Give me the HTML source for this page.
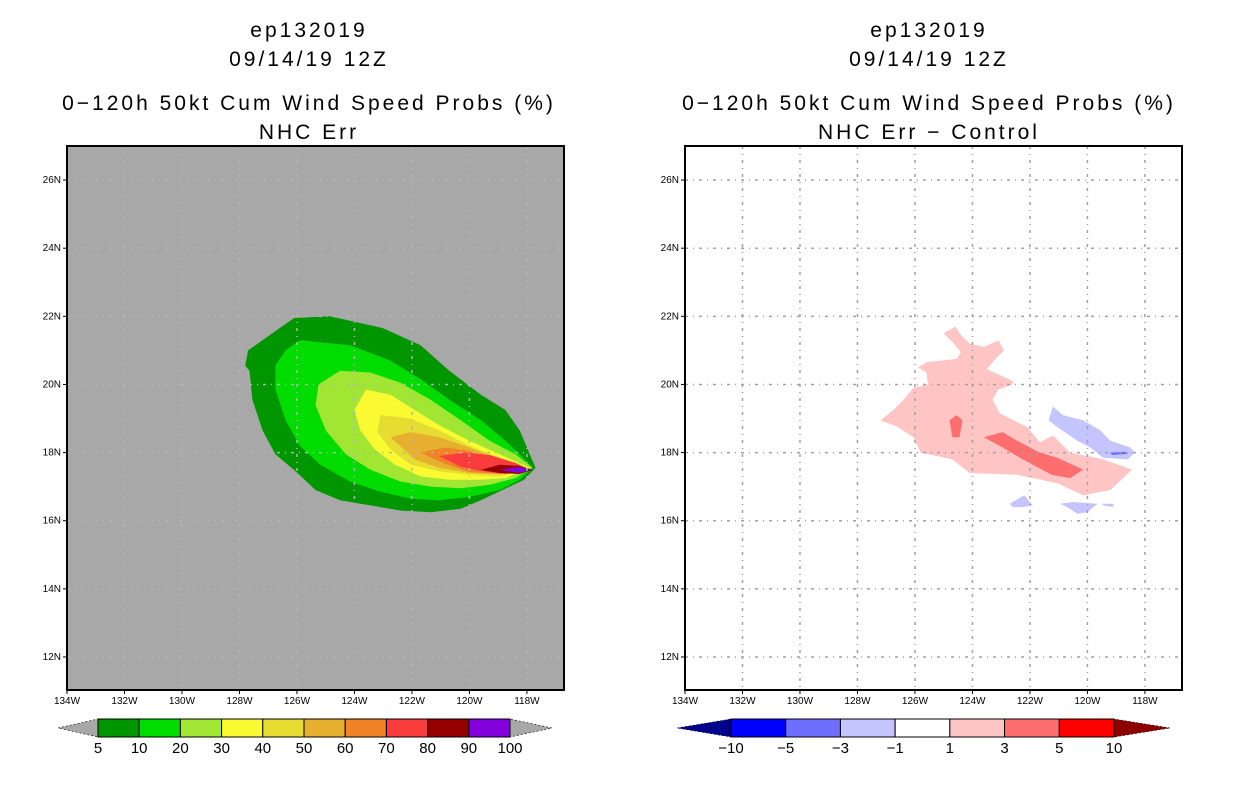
<!DOCTYPE html>
<html><head><meta charset="utf-8"><style>
body{margin:0;background:#fff;width:1236px;height:800px;overflow:hidden}
svg{display:block}
text{font-family:"Liberation Sans",sans-serif}
.t{font-size:21px;text-anchor:middle;letter-spacing:3px}
.ax{font-size:10px}
.cb{font-size:15px;text-anchor:middle}
</style></head><body>
<svg id="c" width="1236" height="800">
<g id="titles">
<text class="t" x="309" y="37">ep132019</text>
<text class="t" x="309" y="66">09/14/19 12Z</text>
<text class="t" x="309" y="110">0−120h 50kt Cum Wind Speed Probs (%)</text>
<text class="t" x="309" y="139">NHC Err</text>
<text class="t" x="929" y="37">ep132019</text>
<text class="t" x="929" y="66">09/14/19 12Z</text>
<text class="t" x="929" y="110">0−120h 50kt Cum Wind Speed Probs (%)</text>
<text class="t" x="929" y="139">NHC Err − Control</text>
</g>
</svg>
<script>
const lonTicks=[134,132,130,128,126,124,122,120,118];
const latTicks=[26,24,22,20,18,16,14,12];
const leftLevels=[5,10,20,30,40,50,60,70,80,90,100];
const leftColors=["#009600","#00dc00","#a0e632","#fafa32","#e6dc32","#e6af2d","#f08228","#fa3c3c","#960000","#8200dc"];
const rightLevels=[-10,-5,-3,-1,1,3,5,10];
const rightColors=["#00008c","#0000ff","#6e6eff","#c4c4ff","#ffffff","#ffc4c4","#ff6e6e","#ff0000","#8c0000"];
const L5=[[126.1,21.95],[124.85,22.0],[123.0,21.65],[121.7,21.15],[120.7,20.4],[119.6,19.7],[118.75,19.25],[118.25,18.65],[117.9,17.95],[117.7,17.55],[118.1,17.2],[118.6,17.0],[119.6,16.6],[120.3,16.35],[121.35,16.25],[122.4,16.3],[123.45,16.45],[124.5,16.6],[125.35,16.9],[126.05,17.45],[126.75,17.95],[127.2,18.65],[127.55,19.55],[127.65,20.4],[127.8,20.55],[127.7,21.0],[126.95,21.45]];
const L10=[[125.9,21.3],[124.15,21.15],[122.75,20.7],[121.7,20.15],[120.7,19.55],[119.6,18.95],[118.75,18.35],[118.25,17.95],[117.8,17.55],[118.25,17.2],[118.95,16.9],[120.0,16.7],[121.05,16.6],[122.05,16.65],[123.1,16.85],[124.15,17.15],[125.2,17.65],[125.9,18.2],[126.4,18.95],[126.75,19.85],[126.75,20.55],[126.4,21.0]];
const L20=[[124.5,20.4],[123.45,20.35],[122.4,20.05],[121.35,19.55],[120.3,18.95],[119.3,18.35],[118.4,17.95],[117.8,17.55],[118.4,17.25],[119.3,17.05],[120.3,16.95],[121.35,17.0],[122.4,17.15],[123.45,17.5],[124.3,17.95],[125.0,18.65],[125.35,19.4],[125.25,20.0]];
const L30=[[123.6,19.85],[122.75,19.7],[121.9,19.25],[121.05,18.8],[120.0,18.35],[118.95,17.95],[117.9,17.55],[118.75,17.25],[119.6,17.2],[120.7,17.2],[121.7,17.3],[122.6,17.65],[123.3,18.1],[123.8,18.65],[124.0,19.25]];
const L40=[[123.1,19.1],[122.05,19.0],[121.05,18.65],[120.0,18.2],[118.95,17.85],[117.9,17.5],[118.95,17.3],[120.0,17.35],[121.05,17.45],[122.05,17.65],[122.75,18.1],[123.2,18.6]];
const L50=[[122.75,18.45],[122.05,18.6],[121.05,18.45],[120.0,18.15],[118.95,17.8],[117.9,17.5],[118.95,17.37],[120.0,17.4],[121.05,17.55],[121.9,17.8]];
const L60=[[121.7,18.0],[120.85,18.15],[120.0,18.05],[118.95,17.73],[117.9,17.49],[118.95,17.37],[120.0,17.43],[120.85,17.67]];
const L70=[[121.05,17.9],[120.15,18.0],[119.3,17.93],[118.4,17.7],[117.9,17.49],[118.75,17.37],[119.6,17.46],[120.3,17.58]];
const L80=[[119.6,17.49],[118.95,17.64],[118.25,17.61],[117.8,17.49],[118.25,17.37],[118.95,17.4]];
const L90=[[118.95,17.49],[118.25,17.58],[117.85,17.49],[118.25,17.4]];
const Rpink=[[125.0,21.5],[124.6,21.7],[124.4,21.45],[124.1,21.2],[123.6,21.1],[123.1,21.3],[122.9,21.0],[123.15,20.8],[123.5,20.45],[122.6,20.1],[122.6,20.0],[123.1,19.85],[123.3,19.55],[123.05,19.15],[122.1,18.75],[121.65,18.3],[121.2,18.5],[120.6,18.0],[119.45,17.8],[118.45,17.5],[119.2,16.9],[120.15,16.75],[121.05,17.1],[122.45,17.35],[124.1,17.4],[124.7,17.8],[125.8,18.0],[126.05,18.45],[126.6,18.75],[127.2,18.95],[126.75,19.25],[126.4,19.55],[126.05,19.9],[125.55,20.0],[125.6,20.35],[125.9,20.5],[125.6,20.65],[124.55,20.75],[124.4,20.95],[124.7,21.25]];
const Rsalmon1=[[124.8,18.95],[124.55,19.1],[124.35,18.95],[124.45,18.45],[124.7,18.45]];
const Rsalmon2=[[123.6,18.45],[122.95,18.6],[122.45,18.35],[121.65,18.0],[121.05,17.85],[120.15,17.5],[120.6,17.25],[121.25,17.35],[122.25,17.8],[122.95,18.15]];
const RblueL=[[121.2,19.35],[120.85,19.1],[120.15,18.95],[119.55,18.65],[119.2,18.35],[118.5,18.15],[118.35,18.0],[118.6,17.8],[119.45,17.85],[119.9,18.15],[120.35,18.35],[121.05,18.75],[121.35,18.95]];
const RblueM=[[119.2,18.0],[118.7,18.03],[118.6,17.96],[119.15,17.93]];
const RblueA=[[122.7,16.5],[122.2,16.75],[121.9,16.45],[122.25,16.4],[122.6,16.4]];
const RblueB=[[120.95,16.5],[120.5,16.55],[119.65,16.5],[120.0,16.25],[120.35,16.2],[120.7,16.4]];
const RblueC=[[119.5,16.5],[119.1,16.5],[119.1,16.4],[119.45,16.45]];

const NS="http://www.w3.org/2000/svg";
const svg=document.getElementById('c');
function mk(t,a,p){const e=document.createElementNS(NS,t);for(const k in a)e.setAttribute(k,a[k]);(p||svg).appendChild(e);return e;}
const W=497,H=544,TOP=146,lonMax=134,lonMin=116.71,latMin=11.03,latMax=27;
function xs(ox){return lon=>ox+(lonMax-lon)/(lonMax-lonMin)*W;}
function ys(lat){return TOP+(latMax-lat)/(latMax-latMin)*H;}
function poly(g,pts,fill,X,name){const e=mk('polygon',{points:pts.map(p=>X(p[0]).toFixed(1)+','+ys(p[1]).toFixed(1)).join(' '),fill:fill},g);

}
function panel(ox,bg,polys,name){
  const X=xs(ox);
  const g=mk('g',{});
  
  
  mk('rect',{x:ox,y:TOP,width:W,height:H,fill:bg},g);
  polys.forEach(p=>poly(g,p[0],p[1],X,p[2]));
  const gc=ox<300?'#b4b4b4':'#a0a0a0';
  lonTicks.forEach(l=>{if(l<134){const ln=mk('line',{x1:X(l),x2:X(l),y1:TOP,y2:TOP+H,stroke:gc,'stroke-width':1.5,'stroke-dasharray':'3,5,1,5'},g);
    
    }
    const t=mk('text',{x:X(l),y:704,class:'ax','text-anchor':'middle'},g);t.textContent=l+'W';
    
    
    mk('line',{x1:X(l),x2:X(l),y1:TOP+H,y2:TOP+H+4,stroke:'#000'},g);});
  latTicks.forEach(l=>{const ln=mk('line',{x1:ox,x2:ox+W,y1:ys(l),y2:ys(l),stroke:gc,'stroke-width':1.5,'stroke-dasharray':'3,5,1,5'},g);
    
    
    mk('line',{x1:ox-4,x2:ox,y1:ys(l),y2:ys(l),stroke:'#000'},g);
    const t=mk('text',{x:ox-6,y:ys(l)+3,class:'ax','text-anchor':'end'},g);t.textContent=l+'N';
    
    });
  const f=mk('rect',{x:ox,y:TOP,width:W,height:H,fill:'none',stroke:'#000','stroke-width':2},g);
  
  
}
const Ls=[L5,L10,L20,L30,L40,L50,L60,L70,L80,L90];
panel(67,'#a8a8a8',Ls.map((p,i)=>[p,leftColors[i],'contour-'+leftLevels[i]]),'left-map');
panel(685,'#ffffff',[[Rpink,rightColors[5],'diff-1-3'],[Rsalmon1,rightColors[6],'diff-3-5-a'],[Rsalmon2,rightColors[6],'diff-3-5-b'],[RblueL,rightColors[3],'diff-neg1-3'],[RblueM,rightColors[2],'diff-neg3-5'],[RblueA,rightColors[3],'diff-neg-a'],[RblueB,rightColors[3],'diff-neg-b'],[RblueC,rightColors[3],'diff-neg-c']],'right-map');

function colorbar(x0,x1,tri0,tri1,colors,levels,lc,rc,name){
  const g=mk('g',{});
  
  
  const y0=719,y1=737,n=colors.length,bw=(x1-x0)/n;
  mk('polygon',{points:`${tri0},728 ${x0},${y0} ${x0},${y1}`,fill:lc,stroke:'#000','stroke-width':0.6,'stroke-dasharray':'2,2'},g);
  mk('polygon',{points:`${tri1},728 ${x1},${y0} ${x1},${y1}`,fill:rc,stroke:'#000','stroke-width':0.6,'stroke-dasharray':'2,2'},g);
  colors.forEach((c,i)=>{const r=mk('rect',{x:x0+i*bw,y:y0,width:bw,height:y1-y0,fill:c,stroke:'#000','stroke-width':1},g);
    
    });
  levels.forEach((v,i)=>{const t=mk('text',{x:x0+i*bw,y:753,class:'cb'},g);t.textContent=v<0?'−'+(-v):v;
    
    });
}
colorbar(98,510,58,552,leftColors,leftLevels,'#a8a8a8','#a8a8a8','left-colorbar');
colorbar(731,1114,677,1170,rightColors.slice(1,8),rightLevels,rightColors[0],rightColors[8],'right-colorbar');
</script>
</body></html>
